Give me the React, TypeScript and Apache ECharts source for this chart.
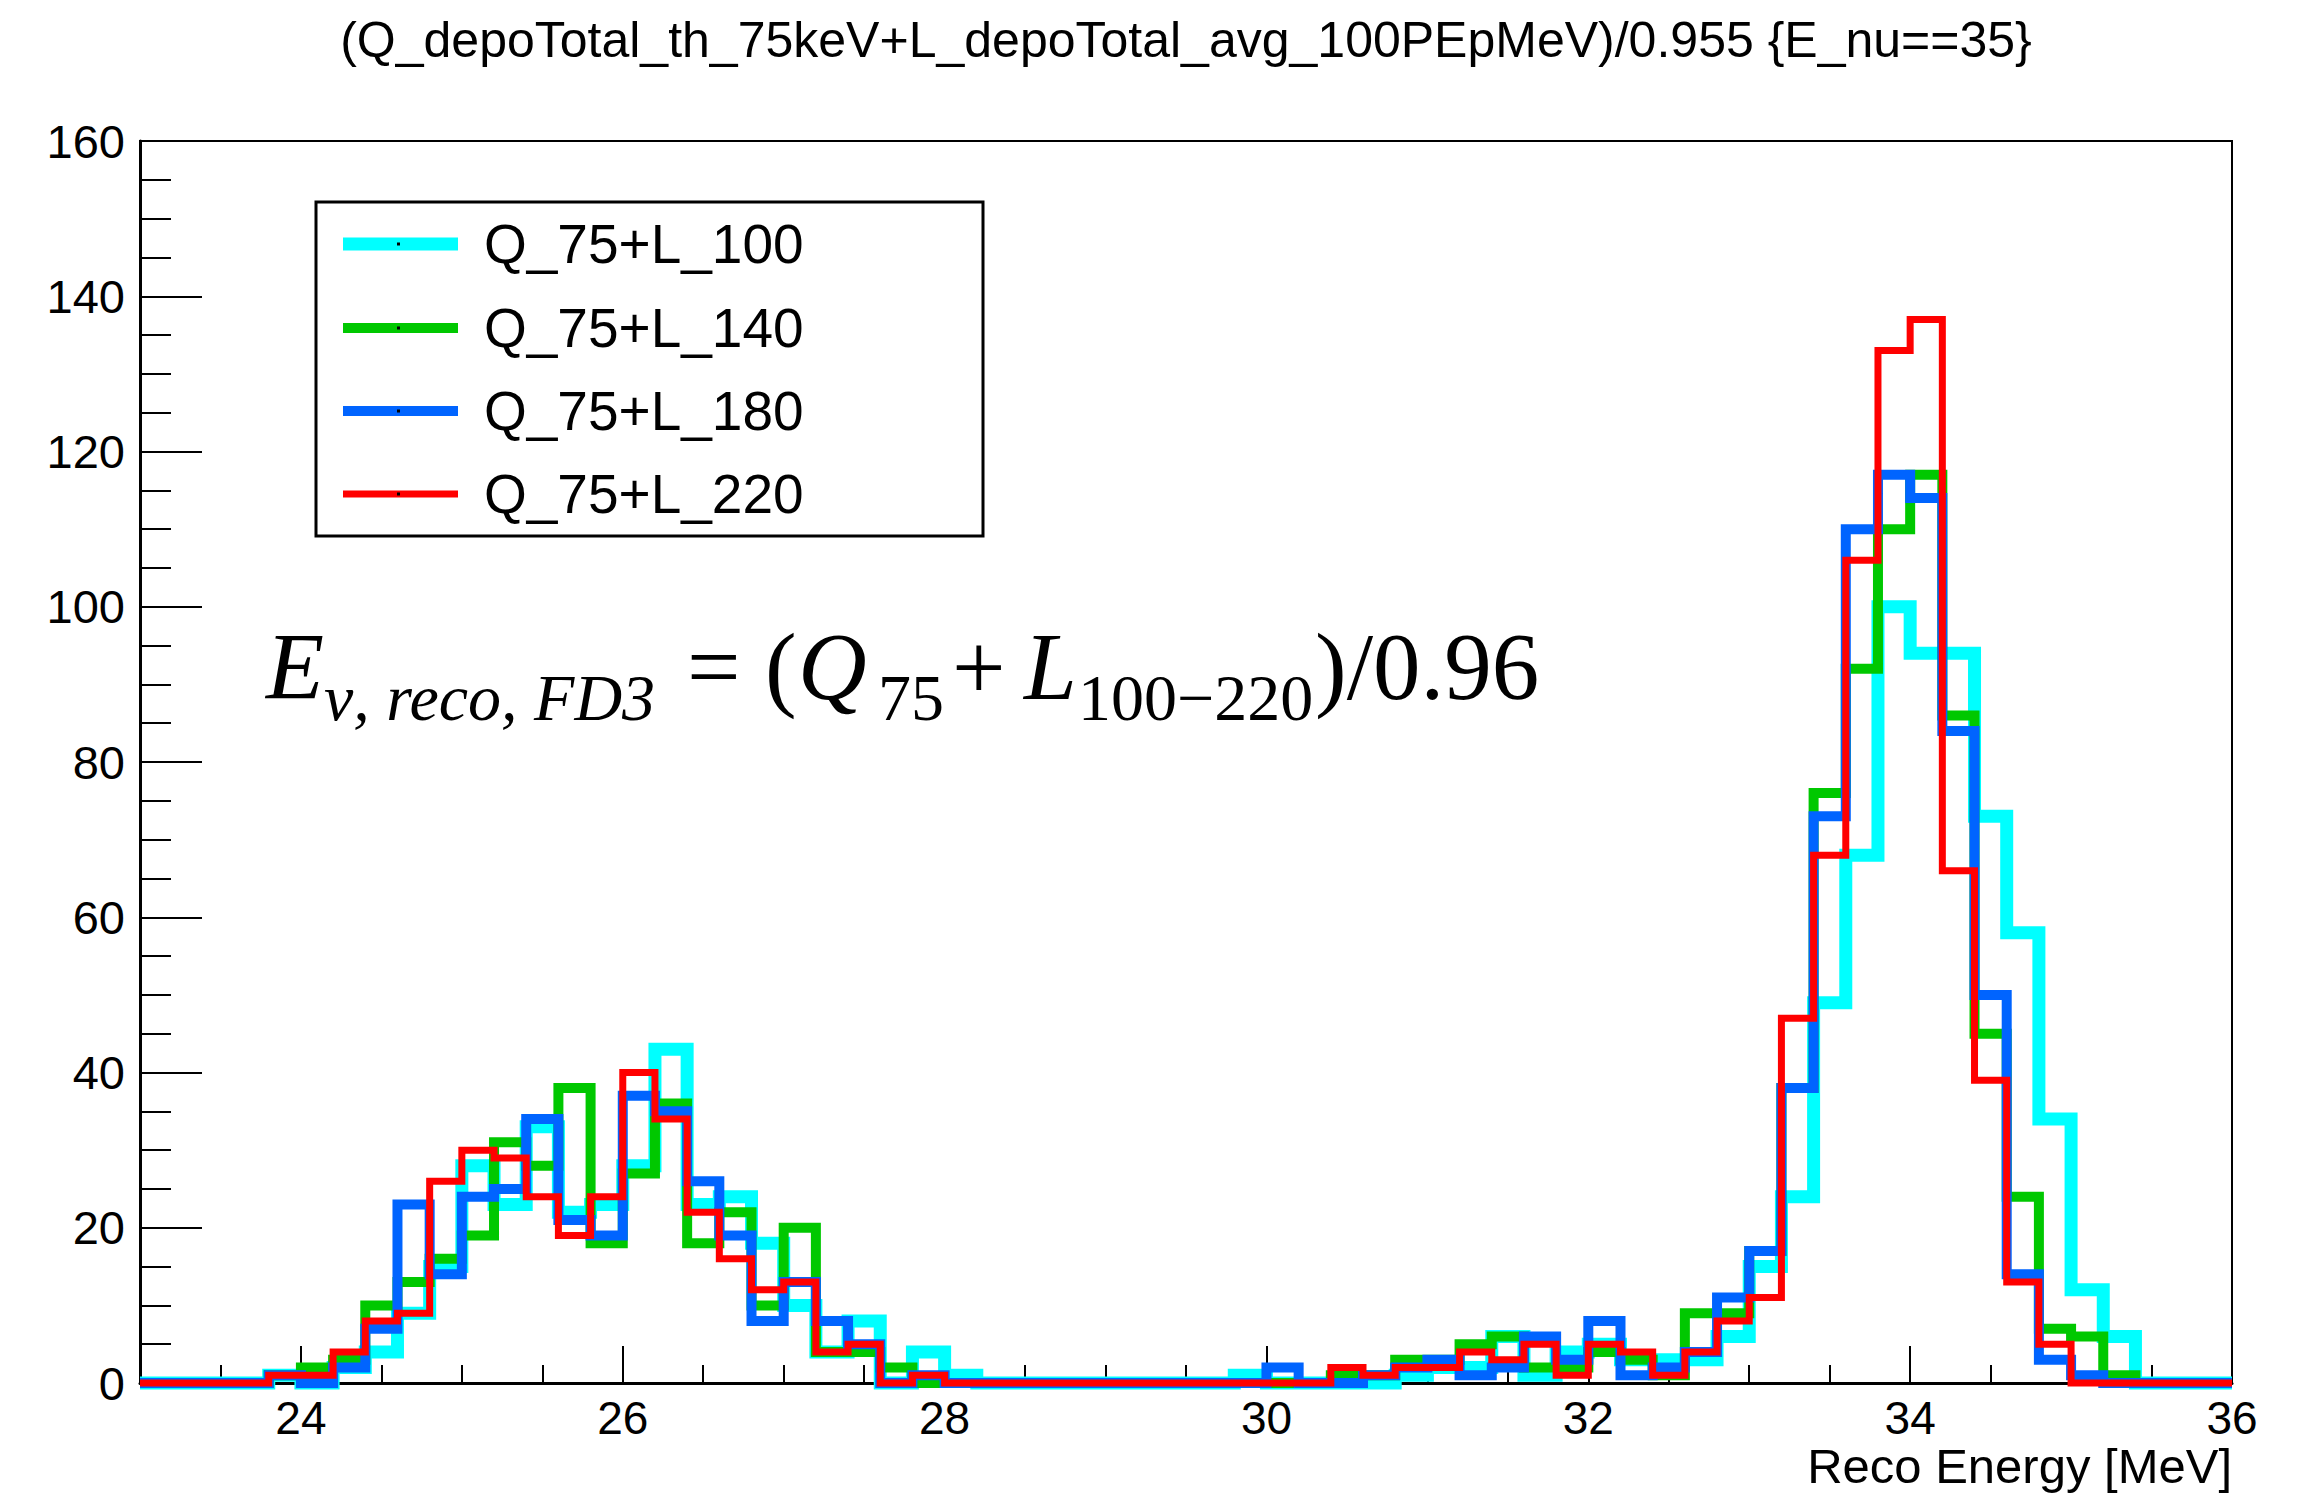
import React, { useEffect, useRef } from 'react';
import * as echarts from 'echarts';

// Histogram binning (Reco Energy in MeV)
const X_MIN = 23;
const X_MAX = 36;
const BIN_WIDTH = 0.2;
const Y_MIN = 0;
const Y_MAX = 160;
const Y_STEP = 20;

// Axis tick values
const X_LABEL_TICKS = [24, 26, 28, 30, 32, 34, 36];
const X_MINOR_TICKS = [
  23.5, 24, 24.5, 25, 25.5, 26, 26.5, 27, 27.5, 28, 28.5, 29, 29.5, 30, 30.5,
  31, 31.5, 32, 32.5, 33, 33.5, 34, 34.5, 35, 35.5,
];

const TITLE = '(Q_depoTotal_th_75keV+L_depoTotal_avg_100PEpMeV)/0.955 {E_nu==35}';
const X_TITLE = 'Reco Energy [MeV]';

const SERIES_NAMES = ['Q_75+L_100', 'Q_75+L_140', 'Q_75+L_180', 'Q_75+L_220'];
const SERIES_COLORS = ['#00ffff', '#00c800', '#0064ff', '#ff0000'];
const SERIES_WIDTHS = [13, 10, 10, 7];

// Bin contents, one entry per 0.2 MeV bin starting at 23.0 MeV (65 bins)
const L100 = [
  0, 0, 0, 0, 1, 0, 2, 4, 9, 15,
  28, 23, 33, 22, 23, 28, 43, 23, 24, 18,
  10, 4, 8, 0, 4, 1, 0, 0, 0, 0,
  0, 0, 0, 0, 1, 0, 0, 0, 0, 1,
  2, 2, 6, 1, 4, 5, 3, 3, 3, 6,
  15, 24, 49, 68, 100, 94, 94, 73, 58, 34,
  12, 6, 0, 0, 0,
];
const L140 = [
  0, 0, 0, 0, 1, 2, 3, 10, 13, 16,
  19, 31, 28, 38, 18, 27, 36, 18, 22, 10,
  20, 4, 4, 2, 0, 0, 0, 0, 0, 0,
  0, 0, 0, 0, 0, 0, 0, 1, 1, 3,
  3, 5, 6, 2, 2, 4, 3, 1, 9, 9,
  17, 38, 76, 92, 110, 117, 86, 45, 24, 7,
  6, 1, 0, 0, 0,
];
const L180 = [
  0, 0, 0, 0, 1, 0, 2, 7, 23, 14,
  24, 25, 34, 21, 19, 37, 35, 26, 19, 8,
  13, 8, 5, 0, 1, 0, 0, 0, 0, 0,
  0, 0, 0, 0, 0, 2, 0, 0, 1, 2,
  3, 1, 2, 6, 3, 8, 1, 2, 4, 11,
  17, 38, 73, 110, 117, 114, 84, 50, 14, 3,
  1, 0, 0, 0, 0,
];
const L220 = [
  0, 0, 0, 0, 1, 1, 4, 8, 9, 26,
  30, 29, 24, 19, 24, 40, 34, 22, 16, 12,
  13, 4, 5, 0, 1, 0, 0, 0, 0, 0,
  0, 0, 0, 0, 0, 0, 0, 2, 1, 2,
  2, 4, 3, 5, 1, 5, 4, 1, 4, 8,
  11, 47, 68, 106, 133, 137, 66, 39, 13, 5,
  0, 0, 0, 0, 0,
];
const SERIES_VALUES = [L100, L140, L180, L220];

const SANS = '"Liberation Sans", Arial, Helvetica, sans-serif';
const SERIF = '"Liberation Serif", "Times New Roman", serif';

// Left bin edges paired with contents; the final point closes the last bin.
function histPoints(vals: number[]): number[][] {
  const pts = vals.map((v, i) => [X_MIN + i * BIN_WIDTH, v]);
  pts.push([X_MAX, vals[vals.length - 1]]);
  return pts;
}

function legendGraphic() {
  const box = { x: 316, y: 202, w: 667, h: 334 };
  const rows = [244, 328, 411, 494];
  const children: any[] = [
    {
      type: 'rect',
      shape: { x: box.x, y: box.y, width: box.w, height: box.h },
      style: { fill: '#fff', stroke: '#000', lineWidth: 3 },
    },
  ];
  SERIES_NAMES.forEach((name, k) => {
    const y = rows[k];
    children.push({
      type: 'line',
      shape: { x1: 343, y1: y, x2: 458, y2: y },
      style: { stroke: SERIES_COLORS[k], lineWidth: SERIES_WIDTHS[k] },
    });
    children.push({
      type: 'rect',
      shape: { x: 397, y: y - 1.5, width: 3, height: 3 },
      style: { fill: '#000' },
    });
    children.push({
      type: 'text',
      x: 484,
      y: y,
      style: {
        text: name,
        fontSize: 55,
        fontFamily: SANS,
        fill: '#000',
        align: 'left',
        verticalAlign: 'middle',
      },
    });
  });
  return { type: 'group', z: 10, children };
}

// E_{nu, reco, FD3} = (Q_75 + L_{100-220})/0.96, set piece by piece
function formulaGraphic() {
  const mainSize = 95;
  const subSize = 66;
  const mainY = 699 - 0.3375 * mainSize;
  const subY = 720 - 0.3375 * subSize;
  const pieces = [
    { t: 'E', x: 266, sub: false, it: true },
    { t: '\u03bd, reco, FD3', x: 324, sub: true, it: true },
    { t: '=', x: 687, sub: false, it: false },
    { t: '(', x: 765, sub: false, it: false },
    { t: 'Q', x: 798, sub: false, it: true },
    { t: '75', x: 878, sub: true, it: false },
    { t: '+', x: 952, sub: false, it: false },
    { t: 'L', x: 1024, sub: false, it: true },
    { t: '100\u2212220', x: 1078, sub: true, it: false },
    { t: ')/0.96', x: 1315, sub: false, it: false },
  ];
  return {
    type: 'group',
    z: 10,
    children: pieces.map((p) => ({
      type: 'text',
      x: p.x,
      y: p.sub ? subY : mainY,
      style: {
        text: p.t,
        fontSize: p.sub ? subSize : mainSize,
        fontFamily: SERIF,
        fontStyle: p.it ? 'italic' : 'normal',
        fill: '#000',
        align: 'left',
        verticalAlign: 'middle',
      },
    })),
  };
}

function buildOption(): any {
  const tickStyle = { color: '#000', width: 2 };
  return {
    animation: false,
    backgroundColor: '#fff',
    grid: {
      left: 140,
      right: 74,
      top: 141,
      bottom: 112,
      show: true,
      borderColor: '#000',
      borderWidth: 2,
      backgroundColor: 'transparent',
    },
    xAxis: [
      {
        type: 'value',
        min: X_MIN,
        max: X_MAX,
        position: 'bottom',
        axisLine: { show: true, onZero: false, lineStyle: { color: '#000', width: 3 } },
        axisTick: {
          show: true,
          inside: true,
          length: 37,
          customValues: X_LABEL_TICKS,
          lineStyle: tickStyle,
        },
        axisLabel: {
          show: true,
          customValues: X_LABEL_TICKS,
          fontSize: 46,
          fontFamily: SANS,
          color: '#000',
          margin: 12,
        },
        splitLine: { show: false },
      },
      {
        type: 'value',
        min: X_MIN,
        max: X_MAX,
        position: 'bottom',
        axisLine: { show: false, onZero: false },
        axisTick: {
          show: true,
          inside: true,
          length: 18,
          customValues: X_MINOR_TICKS,
          lineStyle: tickStyle,
        },
        axisLabel: { show: false },
        splitLine: { show: false },
      },
    ],
    yAxis: {
      type: 'value',
      min: Y_MIN,
      max: Y_MAX,
      interval: Y_STEP,
      axisLine: { show: true, onZero: false, lineStyle: { color: '#000', width: 3 } },
      axisTick: { show: true, inside: true, length: 62, lineStyle: tickStyle },
      minorTick: { show: true, splitNumber: 4, length: 31, lineStyle: tickStyle },
      axisLabel: { fontSize: 47, fontFamily: SANS, color: '#000', margin: 15 },
      splitLine: { show: false },
      minorSplitLine: { show: false },
    },
    series: SERIES_VALUES.map((vals, k) => ({
      name: SERIES_NAMES[k],
      type: 'line',
      step: 'end',
      xAxisIndex: 0,
      yAxisIndex: 0,
      data: histPoints(vals),
      showSymbol: false,
      symbol: 'none',
      clip: false,
      z: 3 + k,
      lineStyle: { color: SERIES_COLORS[k], width: SERIES_WIDTHS[k], join: 'miter', cap: 'butt' },
      emphasis: { disabled: true },
    })),
    graphic: [
      {
        type: 'text',
        x: 1186,
        y: 40,
        style: {
          text: TITLE,
          fontSize: 50,
          fontFamily: SANS,
          fill: '#000',
          align: 'center',
          verticalAlign: 'middle',
        },
      },
      {
        type: 'text',
        x: 2232,
        y: 1466,
        style: {
          text: X_TITLE,
          fontSize: 49,
          fontFamily: SANS,
          fill: '#000',
          align: 'right',
          verticalAlign: 'middle',
        },
      },
      legendGraphic(),
      formulaGraphic(),
    ],
  };
}

export default function App() {
  const ref = useRef<HTMLDivElement>(null);
  useEffect(() => {
    if (!ref.current) return;
    const chart = echarts.init(ref.current, null, { renderer: 'svg' });
    chart.setOption(buildOption());
    return () => {
      chart.dispose();
    };
  }, []);
  return (
    <div
      ref={ref}
      style={{ position: 'fixed', left: 0, top: 0, width: 2306, height: 1495, background: '#fff' }}
    />
  );
}
